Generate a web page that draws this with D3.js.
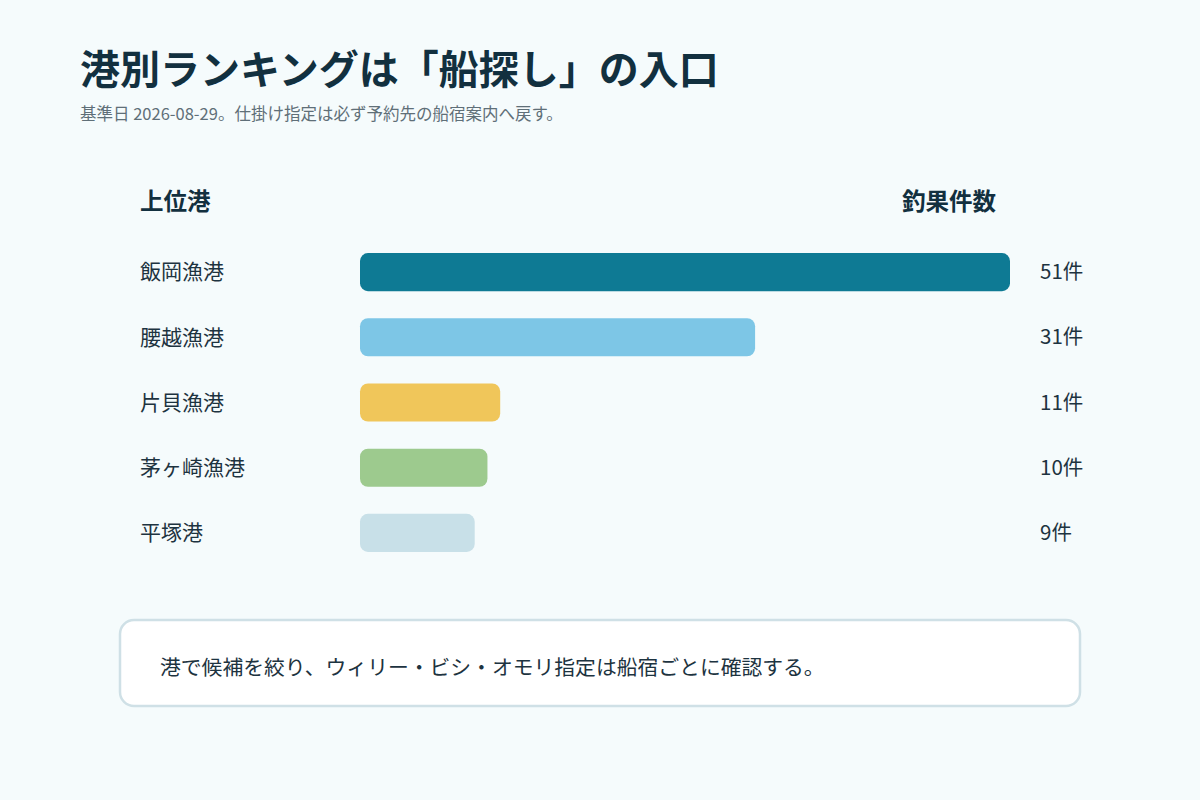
<!DOCTYPE html>
<html><head><meta charset="utf-8">
<script src="https://cdn.jsdelivr.net/npm/d3@7"></script>
<style>body{margin:0;background:#f5fbfc;}svg{display:block;font-family:"Noto Sans CJK JP","Noto Sans",sans-serif;}</style>
</head><body><svg id="c" width="1200" height="800"></svg>
<script>
const ports = ["飯岡漁港","腰越漁港","片貝漁港","茅ヶ崎漁港","平塚港"];
const counts = [51,31,11,10,9];
const colors = ["#0e7a94","#7dc6e6","#f0c65a","#9dca8e","#c8e0e8"];
const unit = "件";

const svg = d3.select("#c");
svg.append("rect").attr("width",1200).attr("height",800).attr("fill","#f5fbfc");
svg.append("text").attr("x",80).attr("y",84).attr("font-size",40).attr("font-weight",700).attr("fill","#12303f").text("港別ランキングは「船探し」の入口");
svg.append("text").attr("x",80).attr("y",120).attr("font-size",16.5).attr("fill","#5f6f78").text("基準日 2026-08-29。仕掛け指定は必ず予約先の船宿案内へ戻す。");
svg.append("text").attr("x",140).attr("y",210).attr("font-size",23.5).attr("font-weight",700).attr("fill","#12303f").text("上位港");
svg.append("text").attr("x",996).attr("y",210).attr("text-anchor","end").attr("font-size",23.5).attr("font-weight",700).attr("fill","#12303f").text("釣果件数");

const x = d3.scaleLinear().domain([0,51]).range([360,1010]);
const y = d3.scaleBand().domain(ports).range([240,565]).paddingInner(0.415).paddingOuter(0.2);
const g = svg.append("g");
ports.forEach((p,i)=>{
  const cy = y(p)+y.bandwidth()/2;
  g.append("rect").attr("x",x(0)).attr("y",y(p)).attr("width",x(counts[i])-x(0)).attr("height",y.bandwidth()).attr("rx",8).attr("fill",colors[i]);
  g.append("text").attr("x",140).attr("y",cy).attr("dy","0.35em").attr("font-size",21).attr("fill","#1d3340").text(p);
  g.append("text").attr("x",1040).attr("y",cy).attr("dy","0.35em").attr("font-size",20.5).attr("fill","#1d3340").text(counts[i]+unit);
});
svg.append("rect").attr("x",120).attr("y",620).attr("width",960).attr("height",86).attr("rx",14).attr("fill","#ffffff").attr("stroke","#cfe0e6").attr("stroke-width",2.5);
svg.append("text").attr("x",160).attr("y",668).attr("dy","0.35em").attr("font-size",20.8).attr("fill","#1d3340").text("港で候補を絞り、ウィリー・ビシ・オモリ指定は船宿ごとに確認する。");
</script></body></html>
